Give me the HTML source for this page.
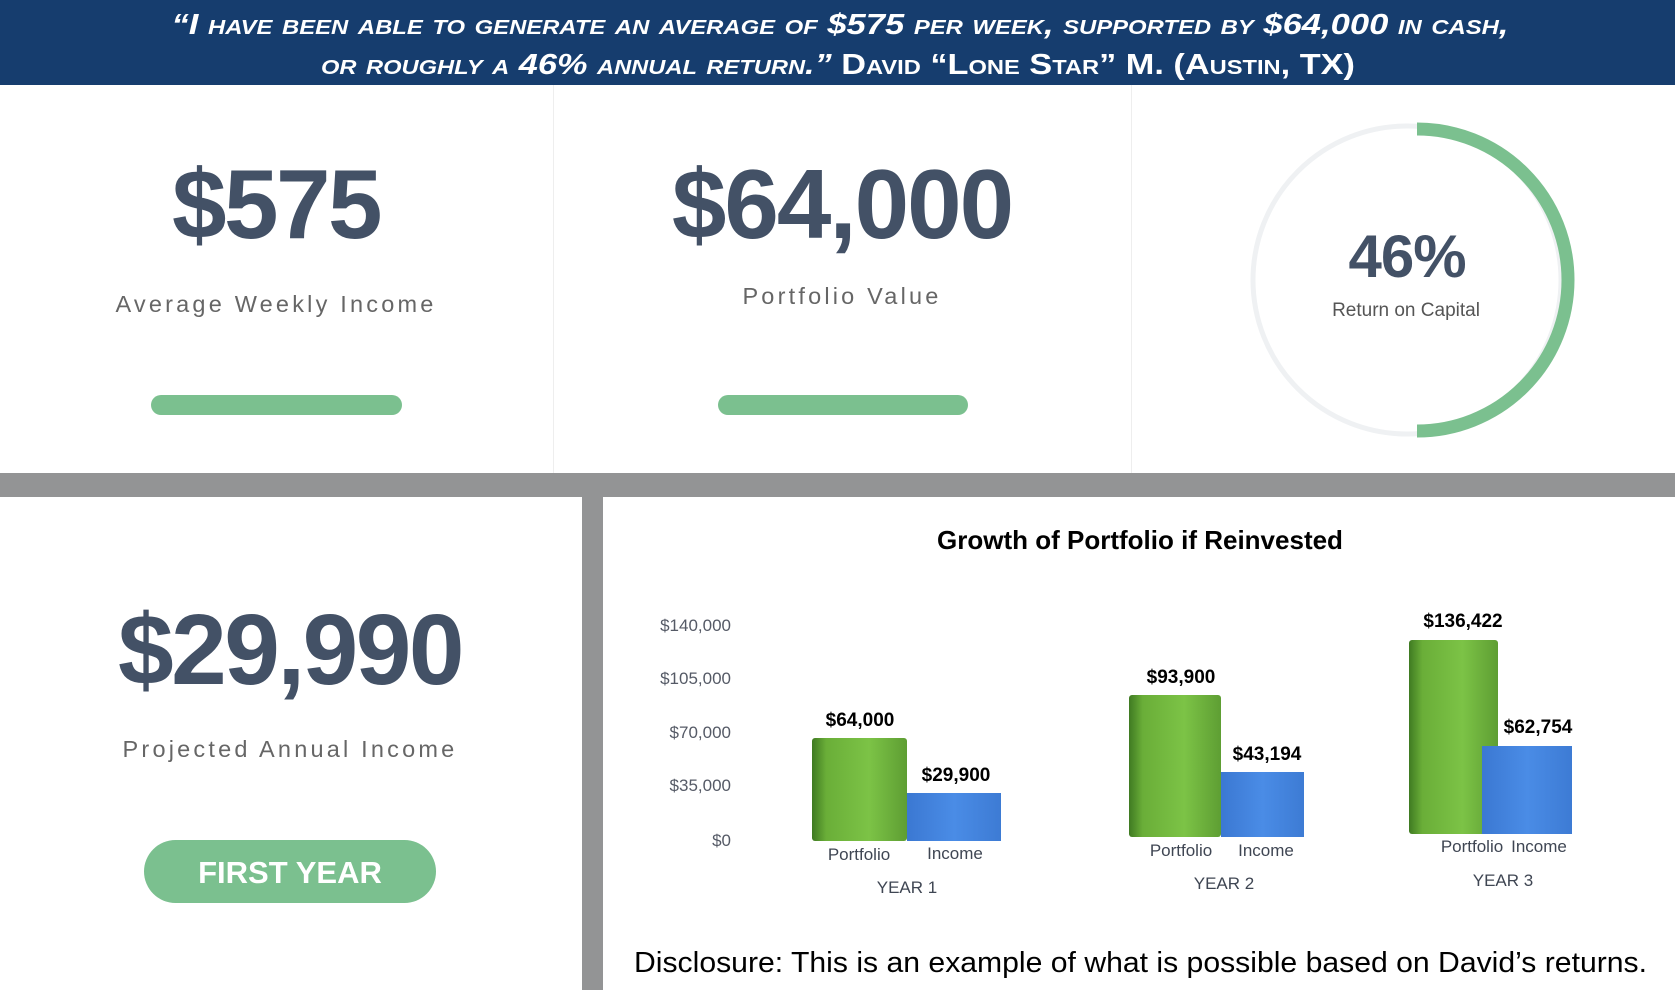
<!DOCTYPE html>
<html><head><meta charset="utf-8"><style>
html,body{margin:0;padding:0;background:#fff;}
svg{display:block;}
text{font-family:"Liberation Sans",Arial,sans-serif;}
</style></head><body>
<svg width="1675" height="990" viewBox="0 0 1675 990" xmlns="http://www.w3.org/2000/svg">
<defs>
<linearGradient id="g" x1="0" x2="1" y1="0" y2="0"><stop offset="0" stop-color="#3f7a22"/><stop offset="0.15" stop-color="#6aae38"/><stop offset="0.6" stop-color="#7cc346"/><stop offset="1" stop-color="#5e9e33"/></linearGradient>
<linearGradient id="b" x1="0" x2="1" y1="0" y2="0"><stop offset="0" stop-color="#3b78d2"/><stop offset="0.5" stop-color="#4a8ce6"/><stop offset="1" stop-color="#3d7bd4"/></linearGradient>
</defs>
<rect x="0" y="0" width="1675" height="85" fill="#163d6e"/>
<g fill="#fff" font-weight="bold" font-style="italic" style="font-variant:small-caps" font-size="29" text-anchor="middle">
<text x="840" y="34" textLength="1337" lengthAdjust="spacingAndGlyphs">“I have been able to generate an average of $575 per week, supported by $64,000 in cash,</text>
<text x="838" y="74" textLength="1034" lengthAdjust="spacingAndGlyphs">or roughly a 46% annual return.” <tspan font-style="normal">David “Lone Star” M. (Austin, TX)</tspan></text>
</g>
<line x1="553.5" y1="85" x2="553.5" y2="473" stroke="#eeeeee"/>
<line x1="1131.5" y1="85" x2="1131.5" y2="473" stroke="#eeeeee"/>
<g fill="#435166" font-weight="bold" text-anchor="middle">
<text x="276" y="238" font-size="98" letter-spacing="-2.5">$575</text>
<text x="842" y="238" font-size="98" letter-spacing="-2">$64,000</text>
<text x="1407" y="277" font-size="60" letter-spacing="-1">46%</text>
<text x="290" y="684" font-size="100" letter-spacing="-2.5">$29,990</text>
</g>
<g fill="#666" text-anchor="middle" font-size="23.5" letter-spacing="3.2">
<text x="276" y="312">Average Weekly Income</text>
<text x="842" y="304">Portfolio Value</text>
<text x="290" y="757">Projected Annual Income</text>
</g>
<text x="1406" y="316" fill="#555" font-size="19" text-anchor="middle">Return on Capital</text>
<rect x="151" y="395" width="251" height="20" rx="10" fill="#7bc08f"/>
<rect x="718" y="395" width="250" height="20" rx="10" fill="#7bc08f"/>
<circle cx="1407" cy="280" r="154" fill="none" stroke="#eff1f3" stroke-width="5"/>
<path d="M1417 129 A151 151 0 0 1 1417 431" fill="none" stroke="#7bc08f" stroke-width="13"/>
<rect x="0" y="473" width="1675" height="24" fill="#939495"/>
<rect x="582" y="497" width="21" height="493" fill="#939495"/>
<rect x="144" y="840" width="292" height="63" rx="31.5" fill="#7bc08f"/>
<text x="290" y="883" fill="#fff" font-weight="bold" font-size="31" text-anchor="middle">FIRST YEAR</text>
<text x="1140" y="549" fill="#000" font-weight="bold" font-size="26" text-anchor="middle">Growth of Portfolio if Reinvested</text>
<g fill="#555a66" font-size="17" text-anchor="end">
<text x="731" y="631">$140,000</text>
<text x="731" y="684">$105,000</text>
<text x="731" y="738">$70,000</text>
<text x="731" y="791">$35,000</text>
<text x="731" y="846">$0</text>
</g>
<rect x="812" y="738" width="95" height="103" rx="3" fill="url(#g)"/>
<rect x="907" y="793" width="94" height="48" fill="url(#b)"/>
<rect x="1129" y="695" width="92" height="142" rx="3" fill="url(#g)"/>
<rect x="1221" y="772" width="83" height="65" fill="url(#b)"/>
<rect x="1409" y="640" width="89" height="194" rx="3" fill="url(#g)"/>
<rect x="1482" y="746" width="90" height="88" fill="url(#b)"/>
<g fill="#000" font-weight="bold" font-size="19" text-anchor="middle">
<text x="860" y="726">$64,000</text>
<text x="956" y="781">$29,900</text>
<text x="1181" y="683">$93,900</text>
<text x="1267" y="760">$43,194</text>
<text x="1463" y="627">$136,422</text>
<text x="1538" y="733">$62,754</text>
</g>
<g fill="#3f4653" font-size="17" text-anchor="middle">
<text x="859" y="860">Portfolio</text><text x="955" y="859">Income</text>
<text x="907" y="893">YEAR 1</text>
<text x="1181" y="856">Portfolio</text><text x="1266" y="856">Income</text>
<text x="1224" y="889">YEAR 2</text>
<text x="1472" y="852">Portfolio</text><text x="1539" y="852">Income</text>
<text x="1503" y="886">YEAR 3</text>
</g>
<text x="634" y="972" fill="#000" font-size="28.5" textLength="1013" lengthAdjust="spacingAndGlyphs">Disclosure: This is an example of what is possible based on David’s returns.</text>
</svg>
</body></html>
